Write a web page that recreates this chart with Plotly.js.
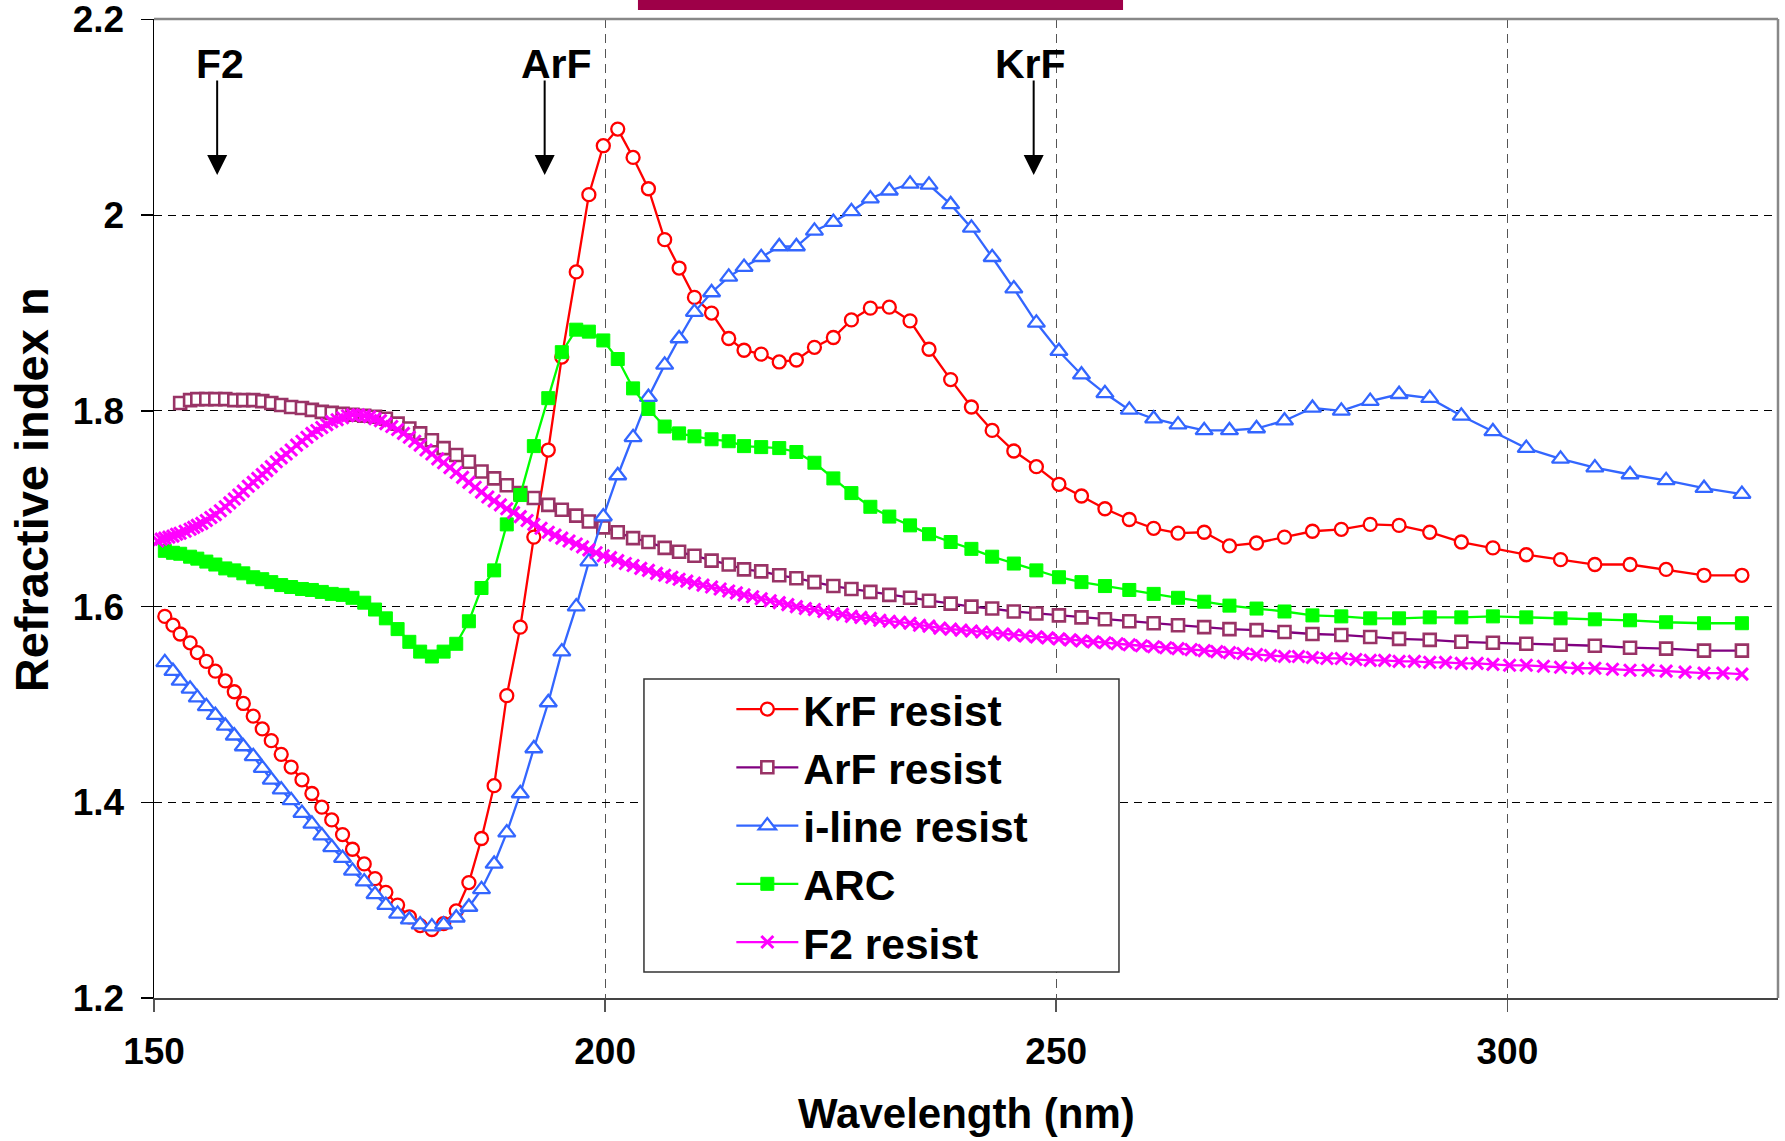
<!DOCTYPE html>
<html>
<head>
<meta charset="utf-8">
<script src="https://cdn.plot.ly/plotly-3.0.1.min.js"></script>
<style>
  html, body { margin: 0; padding: 0; background: #ffffff; }
  #chart { width: 1785px; height: 1141px; }
</style>
</head>
<body>
<div id="chart"></div>
<script>
// ---- Data ----
// Common wavelength sampling (nm) for KrF, i-line and ARC series
const wlMain = [151.2,152.1,152.9,154.0,154.8,155.8,156.8,157.9,158.9,159.9,
  161.0,162.0,163.0,164.1,165.2,166.4,167.5,168.6,169.7,170.9,
  172.0,173.3,174.5,175.7,177.0,178.3,179.5,180.8,182.1,183.5,
  184.9,186.3,187.7,189.1,190.6,192.1,193.7,195.2,196.8,198.2,
  199.8,201.4,203.1,204.8,206.6,208.2,209.9,211.8,213.7,215.4,
  217.3,219.3,221.2,223.2,225.3,227.3,229.4,231.5,233.8,235.9,
  238.3,240.6,242.9,245.3,247.8,250.3,252.8,255.4,258.1,260.8,
  263.5,266.4,269.2,272.2,275.3,278.4,281.6,284.8,288.0,291.4,
  294.9,298.4,302.1,305.9,309.7,313.6,317.6,321.8,326.0];

const nKrF = [1.590,1.581,1.572,1.563,1.553,1.544,1.534,1.524,1.513,1.501,
  1.488,1.475,1.463,1.449,1.436,1.423,1.409,1.395,1.382,1.367,
  1.352,1.337,1.322,1.308,1.295,1.283,1.274,1.270,1.276,1.289,
  1.318,1.363,1.417,1.509,1.579,1.671,1.760,1.855,1.942,2.021,
  2.071,2.088,2.059,2.027,1.975,1.946,1.916,1.900,1.874,1.862,
  1.858,1.850,1.852,1.865,1.875,1.893,1.905,1.906,1.892,1.863,
  1.832,1.804,1.780,1.759,1.743,1.725,1.713,1.700,1.689,1.680,
  1.675,1.676,1.662,1.665,1.671,1.677,1.679,1.684,1.683,1.676,
  1.666,1.660,1.653,1.648,1.643,1.643,1.638,1.632,1.632];

const nILine = [1.543,1.534,1.524,1.516,1.507,1.498,1.489,1.478,1.468,1.457,
  1.447,1.435,1.423,1.413,1.402,1.389,1.378,1.366,1.354,1.343,
  1.330,1.319,1.306,1.295,1.286,1.280,1.275,1.273,1.275,1.282,
  1.293,1.311,1.337,1.369,1.409,1.455,1.502,1.554,1.600,1.646,
  1.692,1.734,1.773,1.814,1.847,1.874,1.901,1.921,1.937,1.947,
  1.957,1.968,1.968,1.984,1.993,2.004,2.017,2.025,2.032,2.031,
  2.011,1.987,1.957,1.925,1.890,1.861,1.837,1.818,1.801,1.792,
  1.786,1.780,1.780,1.782,1.790,1.803,1.800,1.810,1.817,1.813,
  1.795,1.779,1.762,1.751,1.742,1.735,1.729,1.721,1.715];

const nARC = [1.657,1.655,1.654,1.651,1.649,1.646,1.643,1.639,1.637,1.634,
  1.630,1.628,1.625,1.622,1.620,1.618,1.617,1.615,1.613,1.612,
  1.609,1.604,1.597,1.588,1.577,1.564,1.554,1.549,1.554,1.562,
  1.585,1.619,1.637,1.684,1.714,1.764,1.813,1.860,1.883,1.881,
  1.872,1.853,1.823,1.802,1.784,1.777,1.774,1.771,1.769,1.764,
  1.763,1.762,1.758,1.747,1.731,1.716,1.702,1.692,1.683,1.674,
  1.666,1.659,1.651,1.644,1.637,1.630,1.625,1.621,1.617,1.613,
  1.609,1.605,1.601,1.598,1.595,1.591,1.590,1.588,1.588,1.589,
  1.589,1.590,1.589,1.588,1.587,1.586,1.584,1.583,1.583];

// ArF resist starts at the third wavelength of the common sampling
const wlArF = [152.9,154.0,154.8,155.8,156.8,157.9,158.9,159.9,
  161.0,162.0,163.0,164.1,165.2,166.4,167.5,168.6,169.7,170.9,
  172.0,173.3,174.5,175.7,177.0,178.3,179.5,180.8,182.1,183.5,
  184.9,186.3,187.7,189.1,190.6,192.1,193.7,195.2,196.8,198.2,
  199.8,201.4,203.1,204.8,206.6,208.2,209.9,211.8,213.7,215.4,
  217.3,219.3,221.2,223.2,225.3,227.3,229.4,231.5,233.8,235.9,
  238.3,240.6,242.9,245.3,247.8,250.3,252.8,255.4,258.1,260.8,
  263.5,266.4,269.2,272.2,275.3,278.4,281.6,284.8,288.0,291.4,
  294.9,298.4,302.1,305.9,309.7,313.6,317.6,321.8,326.0];
const nArF = [1.808,1.811,1.812,1.812,1.812,1.812,1.811,1.811,
  1.811,1.810,1.808,1.806,1.804,1.803,1.801,1.799,1.798,1.797,
  1.796,1.795,1.794,1.792,1.787,1.782,1.777,1.770,1.762,1.755,
  1.748,1.738,1.731,1.724,1.716,1.711,1.704,1.699,1.693,1.687,
  1.681,1.676,1.670,1.666,1.660,1.656,1.652,1.647,1.643,1.638,
  1.636,1.632,1.629,1.625,1.621,1.618,1.615,1.612,1.609,1.606,
  1.603,1.600,1.598,1.595,1.593,1.591,1.589,1.587,1.585,1.583,
  1.581,1.579,1.577,1.576,1.574,1.572,1.571,1.569,1.567,1.566,
  1.564,1.563,1.562,1.561,1.560,1.558,1.557,1.555,1.555];

// F2 resist: denser sampling
const wlF2 = [150.4,150.8,151.2,151.65,152.1,152.5,152.9,153.45,154.0,154.4,
  154.8,155.3,155.8,156.3,156.8,157.35,157.9,158.4,158.9,159.4,
  159.9,160.45,161.0,161.5,162.0,162.5,163.0,163.55,164.1,164.65,
  165.2,165.8,166.4,166.95,167.5,168.05,168.6,169.15,169.7,170.3,
  170.9,171.45,172.0,172.65,173.3,173.9,174.5,175.1,175.7,176.35,
  177.0,177.65,178.3,178.9,179.5,180.15,180.8,181.45,182.1,182.8,
  183.5,184.2,184.9,185.6,186.3,187.0,187.7,188.4,189.1,189.85,
  190.6,191.35,192.1,192.9,193.7,194.45,195.2,196.0,196.8,197.5,
  198.2,199.0,199.8,200.6,201.4,202.25,203.1,203.95,204.8,205.7,
  206.6,207.4,208.2,209.05,209.9,210.85,211.8,212.75,213.7,214.55,
  215.4,216.35,217.3,218.3,219.3,220.25,221.2,222.2,223.2,224.25,
  225.3,226.3,227.3,228.35,229.4,230.45,231.5,232.65,233.8,234.85,
  235.9,237.1,238.3,239.45,240.6,241.75,242.9,244.1,245.3,246.55,
  247.8,249.05,250.3,251.55,252.8,254.1,255.4,256.75,258.1,259.45,
  260.8,262.15,263.5,264.95,266.4,267.8,269.2,270.7,272.2,273.75,
  275.3,276.85,278.4,280.0,281.6,283.2,284.8,286.4,288.0,289.7,
  291.4,293.15,294.9,296.65,298.4,300.25,302.1,304.0,305.9,307.8,
  309.7,311.65,313.6,315.6,317.6,319.7,321.8,323.9,326.0];
const nF2 = [1.667,1.669,1.670,1.671,1.672,1.674,1.675,1.677,1.679,1.681,
  1.683,1.685,1.688,1.691,1.694,1.698,1.702,1.706,1.710,1.714,
  1.718,1.723,1.727,1.731,1.735,1.739,1.743,1.748,1.752,1.756,
  1.760,1.765,1.769,1.773,1.777,1.780,1.783,1.786,1.789,1.791,
  1.793,1.795,1.796,1.796,1.795,1.794,1.792,1.790,1.787,1.784,
  1.781,1.777,1.773,1.769,1.765,1.760,1.756,1.751,1.747,1.742,
  1.737,1.732,1.727,1.722,1.717,1.712,1.708,1.704,1.700,1.696,
  1.692,1.688,1.684,1.680,1.676,1.673,1.670,1.667,1.664,1.661,
  1.658,1.655,1.652,1.650,1.647,1.644,1.642,1.639,1.637,1.634,
  1.632,1.630,1.628,1.626,1.624,1.622,1.620,1.618,1.616,1.614,
  1.612,1.610,1.608,1.606,1.604,1.602,1.600,1.598,1.597,1.595,
  1.593,1.592,1.590,1.589,1.588,1.586,1.585,1.584,1.583,1.581,
  1.580,1.578,1.577,1.576,1.575,1.574,1.573,1.572,1.571,1.570,
  1.569,1.568,1.567,1.566,1.565,1.564,1.563,1.562,1.561,1.560,
  1.559,1.558,1.557,1.556,1.555,1.554,1.553,1.552,1.551,1.550,
  1.549,1.549,1.548,1.547,1.547,1.546,1.545,1.545,1.544,1.544,
  1.543,1.543,1.542,1.542,1.541,1.540,1.540,1.539,1.538,1.537,
  1.537,1.536,1.535,1.535,1.534,1.533,1.532,1.532,1.531];

const seriesNames = ['KrF resist', 'ArF resist', 'i-line resist', 'ARC', 'F2 resist'];
const laserLabels = ['F2', 'ArF', 'KrF'];
const laserWavelengths = [157.0, 193.3, 247.5];
const xTicks = [150, 200, 250, 300];
const yTicks = [1.2, 1.4, 1.6, 1.8, 2.0, 2.2];
const yTickText = ['1.2', '1.4', '1.6', '1.8', '2', '2.2'];

// ---- Plot ----
const FONT = 'Liberation Sans, Arial, Helvetica, sans-serif';

const traces = [
  {
    x: wlMain, y: nKrF, name: seriesNames[0], type: 'scatter', mode: 'lines+markers',
    line: {color: '#FF0000', width: 2.3},
    marker: {symbol: 'circle', size: 13, color: '#FFFFFF', line: {color: '#FF0000', width: 2.3}}
  },
  {
    x: wlArF, y: nArF, name: seriesNames[1], type: 'scatter', mode: 'lines+markers',
    line: {color: '#800080', width: 2.3},
    marker: {symbol: 'square', size: 12, color: '#FFFFFF', line: {color: '#993366', width: 2.6}}
  },
  {
    x: wlMain, y: nILine, name: seriesNames[2], type: 'scatter', mode: 'lines+markers',
    line: {color: '#3366FF', width: 2.3},
    marker: {symbol: 'triangle-up', size: 15, color: '#FFFFFF', line: {color: '#3366FF', width: 2.3}}
  },
  {
    x: wlMain, y: nARC, name: seriesNames[3], type: 'scatter', mode: 'lines+markers',
    line: {color: '#00FF00', width: 2.3},
    marker: {symbol: 'square', size: 13, color: '#00FF00', line: {color: '#00FF00', width: 1}}
  },
  {
    x: wlF2, y: nF2, name: seriesNames[4], type: 'scatter', mode: 'lines+markers',
    line: {color: '#FF00FF', width: 2.3},
    marker: {symbol: 'x-thin', size: 12, color: '#FF00FF', line: {color: '#FF00FF', width: 3}}
  }
];

const annotations = [];
for (let i = 0; i < laserLabels.length; i++) {
  annotations.push({
    x: laserWavelengths[i], y: 2.041, xref: 'x', yref: 'y',
    text: '', showarrow: true, ax: 0, ay: -96,
    arrowhead: 2, arrowsize: 2.0, arrowwidth: 2, arrowcolor: '#000000'
  });
}
const labelOffsets = [0.3, 1.3, -0.4];
for (let i = 0; i < laserLabels.length; i++) {
  annotations.push({
    x: laserWavelengths[i] + labelOffsets[i], y: 2.155, xref: 'x', yref: 'y',
    text: laserLabels[i], showarrow: false, xanchor: 'center', yanchor: 'middle',
    font: {family: FONT, size: 41, color: '#000000', weight: 'bold'}
  });
}
// Axis titles
annotations.push({
  xref: 'paper', yref: 'paper', x: 0.5, y: -0.1175, xanchor: 'center', yanchor: 'middle',
  text: 'Wavelength (nm)', showarrow: false,
  font: {family: FONT, size: 42, color: '#000000', weight: 'bold'}
});
annotations.push({
  xref: 'paper', yref: 'paper', x: -0.0752, y: 0.5195, xanchor: 'center', yanchor: 'middle',
  text: 'Refractive index n', showarrow: false, textangle: -90,
  font: {family: FONT, size: 47, color: '#000000', weight: 'bold'}
});

const shapes = [
  // legend box
  {type: 'rect', xref: 'paper', yref: 'paper', x0: 0.3017, x1: 0.5942, y0: 0.0266, y1: 0.3258,
   line: {color: '#333333', width: 1.5}, fillcolor: '#FFFFFF', layer: 'above'},
  // top border
  {type: 'line', xref: 'paper', yref: 'paper', x0: 0, x1: 1, y0: 1, y1: 1,
   line: {color: '#888888', width: 2.5}, layer: 'above'},
  // right border
  {type: 'line', xref: 'paper', yref: 'paper', x0: 1, x1: 1, y0: 0, y1: 1,
   line: {color: '#888888', width: 2.5}, layer: 'above'},
  // maroon bar at the top edge of the picture
  {type: 'rect', xref: 'paper', yref: 'paper', x0: 0.298, x1: 0.5967, y0: 1.0092, y1: 1.03,
   line: {width: 0}, fillcolor: '#9E0048', layer: 'above'}
];

const layout = {
  width: 1785, height: 1141,
  margin: {l: 154, r: 7, t: 19, b: 143, pad: 0},
  paper_bgcolor: '#FFFFFF', plot_bgcolor: '#FFFFFF',
  showlegend: true,
  legend: {
    x: 0.3555, y: 0.3300, xanchor: 'left', yanchor: 'top',
    bgcolor: 'rgba(0,0,0,0)', borderwidth: 0,
    font: {family: FONT, size: 42.5, color: '#000000', weight: 'bold'},
    itemwidth: 62, tracegroupgap: 0
  },
  xaxis: {
    range: [150, 330], tickvals: xTicks, ticktext: xTicks.map(String),
    ticks: 'outside', ticklen: 12, tickwidth: 1.5, tickcolor: '#555555',
    showline: true, linecolor: '#444444', linewidth: 2,
    showgrid: true, gridcolor: '#555555', gridwidth: 1.2, griddash: '9px,6px',
    zeroline: false, ticklabelstandoff: 8, ticklabeloverflow: 'allow',
    tickfont: {family: FONT, size: 37, color: '#000000', weight: 'bold'}
  },
  yaxis: {
    range: [1.2, 2.2005], tickvals: yTicks, ticktext: yTickText,
    ticks: 'outside', ticklen: 12, tickwidth: 1.5, tickcolor: '#000000',
    showline: true, linecolor: '#000000', linewidth: 1.5,
    showgrid: true, gridcolor: '#000000', gridwidth: 1, griddash: '8px,6px',
    zeroline: false, ticklabelstandoff: 9, ticklabeloverflow: 'allow',
    tickfont: {family: FONT, size: 37, color: '#000000', weight: 'bold'}
  },
  annotations: annotations,
  shapes: shapes
};

Plotly.newPlot('chart', traces, layout, {staticPlot: true, displayModeBar: false});
</script>
</body>
</html>
